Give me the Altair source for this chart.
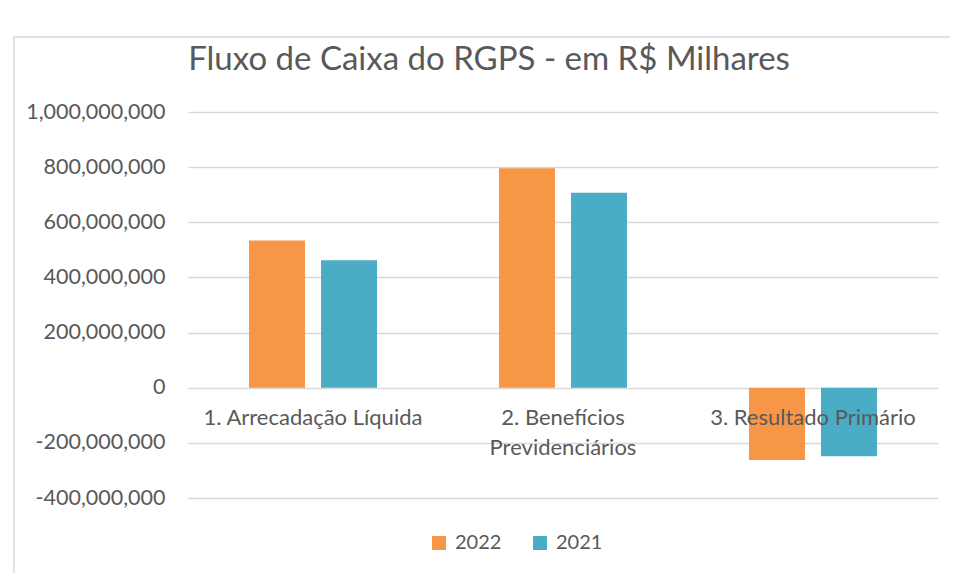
import altair as alt
import pandas as pd

categories = ["1. Arrecadação Líquida", "2. Benefícios Previdenciários", "3. Resultado Primário"]
labels = ["1. Arrecadação Líquida", "2. Benefícios\nPrevidenciários", "3. Resultado Primário"]
years = ["2022", "2021"]
values_2022 = [534e6, 796e6, -262e6]
values_2021 = [462e6, 707e6, -249e6]
y_ticks = [-4e8, -2e8, 0, 2e8, 4e8, 6e8, 8e8, 1e9]
colors = ["#F79646", "#4BACC6"]

rows = []
for c, a, b in zip(categories, values_2022, values_2021):
    rows.append({"cat": c, "year": "2022", "value": a})
    rows.append({"cat": c, "year": "2021", "value": b})
df = pd.DataFrame(rows)
lab_df = pd.DataFrame({"cat": categories, "label": labels})

FONT = "Lato"
TXT = "#595959"

x_enc = alt.X("cat:N", sort=categories, axis=None,
              scale=alt.Scale(paddingInner=0.488, paddingOuter=0.244))

border = alt.Chart(pd.DataFrame({"a": [0]})).mark_rect(
    fillOpacity=0, stroke="#D9D9D9", strokeWidth=1.5
).encode(x=alt.value(-174), x2=alt.value(820), y=alt.value(-75), y2=alt.value(560))

bars = alt.Chart(df).mark_bar().encode(
    x=x_enc,
    xOffset=alt.XOffset("year:N", sort=years,
                        scale=alt.Scale(paddingInner=0.222, paddingOuter=0)),
    y=alt.Y("value:Q",
            scale=alt.Scale(domain=[-4e8, 1e9], nice=False, zero=False),
            axis=alt.Axis(values=y_ticks, title=None, domain=False, ticks=False,
                          labelPadding=23, labelFont=FONT, labelFontSize=21.5,
                          labelColor=TXT, gridColor="#D9D9D9", gridWidth=1.5,
                          labelExpr="replace(format(datum.value, ','), '\u2212', '-')")),
    color=alt.Color("year:N", scale=alt.Scale(domain=years, range=colors),
                    legend=alt.Legend(orient="none", legendX=241, legendY=421,
                                      direction="horizontal", title=None,
                                      symbolType="square", symbolSize=196,
                                      symbolStrokeWidth=0, labelFont=FONT,
                                      labelFontSize=20, labelColor=TXT,
                                      columnPadding=28, labelOffset=6)),
)

texts = alt.Chart(lab_df).mark_text(
    font=FONT, fontSize=22, color=TXT, baseline="top", dy=20,
    lineBreak="\n", lineHeight=30
).encode(x=x_enc, y=alt.datum(0), text="label:N")

chart = alt.layer(border, bars, texts).properties(
    width=750, height=386,
    autosize="none",
    padding={"left": 180, "top": 104, "right": 12, "bottom": 75},
    title=alt.TitleParams("Fluxo de Caixa do RGPS - em R$ Milhares", font=FONT,
                          fontSize=33, fontWeight="normal", color=TXT,
                          anchor="middle", dx=-74, offset=-41),
).configure_view(strokeWidth=0)

chart.save("out.html", embed_options={"renderer": "svg", "actions": False})
